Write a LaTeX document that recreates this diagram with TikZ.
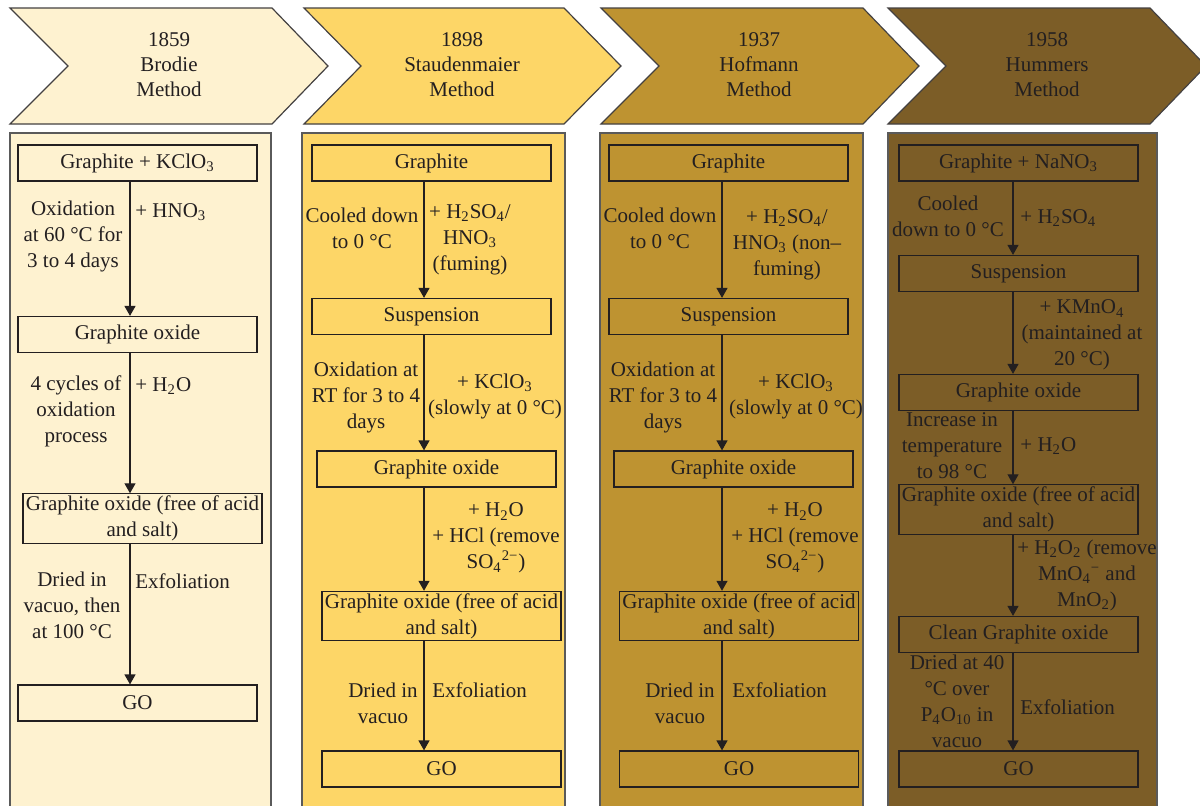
\documentclass[tikz,border=0pt]{standalone}
\usepackage{fontspec}
\setmainfont{Liberation Serif}
\usepackage{tikz}
\usepackage{xcolor}
\usetikzlibrary{calc}
\usetikzlibrary{positioning}
\usetikzlibrary{arrows.meta}

\definecolor{brodie}{HTML}{FEF2D0}
\definecolor{staud}{HTML}{FDD667}
\definecolor{hofmann}{HTML}{BE9331}
\definecolor{hummers}{HTML}{7C5D27}
\definecolor{ink}{HTML}{231F20}
\definecolor{rim}{HTML}{5A5A5A}

\newcommand{\chsub}[1]{\textsubscript{#1}}
\newcommand{\chsup}[1]{\textsuperscript{#1}}

\tikzset{
  stepbox/.style={draw=ink, line width=0.6pt, minimum width=119.5pt, minimum height=18pt, inner sep=1pt, align=center},
  flow/.style={draw=ink, line width=0.6pt, -{Triangle[length=5pt,width=5.5pt]}},
  note/.style={align=center, inner sep=0pt},
  side/.style={anchor=west, inner sep=0pt},
  head/.style={align=center, inner sep=0pt, font=\fontsize{10.5pt}{12.5pt}\selectfont},
  chevron/.style={line width=0.6pt, draw=ink!85},
  panel/.style={line width=0.8pt, draw=rim}
}

\begin{document}
\begin{tikzpicture}[x=0.5pt, y=-0.5pt, every node/.style={text=ink, font=\fontsize{10.5pt}{13pt}\selectfont}]
\useasboundingbox (0,0) rectangle (1200,805);
\fill[white] (0,0) rectangle (1200,805);

% headers
\filldraw[chevron, fill=brodie] (10,8) -- ++(262,0) -- ++(56,58) -- ++(-56,58) -- ++(-262,0) -- ++(58,-58) -- cycle;
\filldraw[chevron, fill=staud] (304,8) -- ++(260,0) -- ++(57,58) -- ++(-57,58) -- ++(-260,0) -- ++(57,-58) -- cycle;
\filldraw[chevron, fill=hofmann] (601,8) -- ++(262,0) -- ++(56,58) -- ++(-56,58) -- ++(-262,0) -- ++(58,-58) -- cycle;
\filldraw[chevron, fill=hummers] (888,8) -- ++(262,0) -- ++(56,58) -- ++(-56,58) -- ++(-262,0) -- ++(58,-58) -- cycle;
\node[head] (h1) at (169,65) {1859\\Brodie\\Method};
\node[head] (h2) at (462,65) {1898\\Staudenmaier\\Method};
\node[head] (h3) at (759,65) {1937\\Hofmann\\Method};
\node[head] (h4) at (1047,65) {1958\\Hummers\\Method};

% panels
\filldraw[panel, fill=brodie] (10,133) rectangle (271,812);
\filldraw[panel, fill=staud] (302,133) rectangle (565,812);
\filldraw[panel, fill=hofmann] (600,133) rectangle (863,812);
\filldraw[panel, fill=hummers] (888,133) rectangle (1157,812);

% Brodie
\coordinate (a1) at (130,0);
\node[stepbox] (b11) at (137.5,163) {Graphite + KClO\chsub{3}};
\node[stepbox] (b12) at (137.5,334.5) {Graphite oxide};
\node[stepbox] (b13) at (142.5,518.5) {Graphite oxide (free of acid\\and salt)};
\node[stepbox] (b14) at (137.5,703) {GO};
\node[note] (l11) at (73,236) {Oxidation\\at 60 °C for\\3 to 4 days};
\node[side] (r11) at (135,212) {+ HNO\chsub{3}};
\node[note] (l12) at (76,411) {4 cycles of\\oxidation\\process};
\node[side] (r12) at (135,386) {+ H\chsub{2}O};
\node[note] (l13) at (72,605) {Dried in\\vacuo, then\\at 100 °C};
\node[side] (r13) at (135,581) {Exfoliation};
\draw[flow] (b11.south -| a1) -- (b12.north -| a1);
\draw[flow] (b12.south -| a1) -- (b13.north -| a1);
\draw[flow] (b13.south -| a1) -- (b14.north -| a1);

% Staudenmaier
\coordinate (a2) at (424,0);
\node[stepbox] (b21) at (431.5,163) {Graphite};
\node[stepbox] (b22) at (431.5,316.5) {Suspension};
\node[stepbox] (b23) at (436.5,469) {Graphite oxide};
\node[stepbox] (b24) at (441.5,616) {Graphite oxide (free of acid\\and salt)};
\node[stepbox] (b25) at (441.5,769) {GO};
\node[note] (l21) at (362,228) {Cooled down\\to 0 °C};
\node[note] (r21) at (470,240) {+ H\chsub{2}SO\chsub{4}/\\HNO\chsub{3}\\(fuming)};
\node[note] (l22) at (366,397) {Oxidation at\\RT for 3 to 4\\days};
\node[note] (r22) at (495,396) {+ KClO\chsub{3}\\(slowly at 0 °C)};
\node[note] (r23) at (496,538) {+ H\chsub{2}O\\+ HCl (remove\\SO\chsub{4}\chsup{2−})};
\node[note] (l24) at (383,703) {Dried in\\vacuo};
\node[side] (r24) at (432,690) {Exfoliation};
\draw[flow] (b21.south -| a2) -- (b22.north -| a2);
\draw[flow] (b22.south -| a2) -- (b23.north -| a2);
\draw[flow] (b23.south -| a2) -- (b24.north -| a2);
\draw[flow] (b24.south -| a2) -- (b25.north -| a2);

% Hofmann
\coordinate (a3) at (722,0);
\node[stepbox] (b31) at (728.5,163) {Graphite};
\node[stepbox] (b32) at (728.5,316.5) {Suspension};
\node[stepbox] (b33) at (733.5,469) {Graphite oxide};
\node[stepbox] (b34) at (739,616) {Graphite oxide (free of acid\\and salt)};
\node[stepbox] (b35) at (739,769) {GO};
\node[note] (l31) at (660,228) {Cooled down\\to 0 °C};
\node[note] (r31) at (787,245) {+ H\chsub{2}SO\chsub{4}/\\HNO\chsub{3} (non–\\fuming)};
\node[note] (l32) at (663,397) {Oxidation at\\RT for 3 to 4\\days};
\node[note] (r32) at (796,396) {+ KClO\chsub{3}\\(slowly at 0 °C)};
\node[note] (r33) at (795,538) {+ H\chsub{2}O\\+ HCl (remove\\SO\chsub{4}\chsup{2−})};
\node[note] (l34) at (680,703) {Dried in\\vacuo};
\node[side] (r34) at (732,690) {Exfoliation};
\draw[flow] (b31.south -| a3) -- (b32.north -| a3);
\draw[flow] (b32.south -| a3) -- (b33.north -| a3);
\draw[flow] (b33.south -| a3) -- (b34.north -| a3);
\draw[flow] (b34.south -| a3) -- (b35.north -| a3);

% Hummers
\coordinate (a4) at (1013,0);
\node[stepbox] (b41) at (1018.5,163) {Graphite + NaNO\chsub{3}};
\node[stepbox] (b42) at (1018.5,273.5) {Suspension};
\node[stepbox] (b43) at (1018.5,392.5) {Graphite oxide};
\node[stepbox] (b44) at (1018.5,509.5) {Graphite oxide (free of acid\\and salt)};
\node[stepbox] (b45) at (1018.5,634.5) {Clean Graphite oxide};
\node[stepbox] (b46) at (1018.5,769) {GO};
\node[note] (l41) at (948,216) {Cooled\\down to 0 °C};
\node[side] (r41) at (1020,218) {+ H\chsub{2}SO\chsub{4}};
\node[note] (r42) at (1082,335) {+ KMnO\chsub{4}\\(maintained at\\20 °C)};
\node[note] (l43) at (952,446) {Increase in\\temperature\\to 98 °C};
\node[side] (r43) at (1020,446) {+ H\chsub{2}O};
\node[note] (r44) at (1087,575) {+ H\chsub{2}O\chsub{2} (remove\\MnO\chsub{4}\chsup{−} and\\MnO\chsub{2})};
\node[note] (l45) at (957,701) {Dried at 40\\°C over\\P\chsub{4}O\chsub{10} in\\vacuo};
\node[side] (r45) at (1020,707) {Exfoliation};
\draw[flow] (b41.south -| a4) -- (b42.north -| a4);
\draw[flow] (b42.south -| a4) -- (b43.north -| a4);
\draw[flow] (b43.south -| a4) -- (b44.north -| a4);
\draw[flow] (b44.south -| a4) -- (b45.north -| a4);
\draw[flow] (b45.south -| a4) -- (b46.north -| a4);
\end{tikzpicture}
\end{document}
